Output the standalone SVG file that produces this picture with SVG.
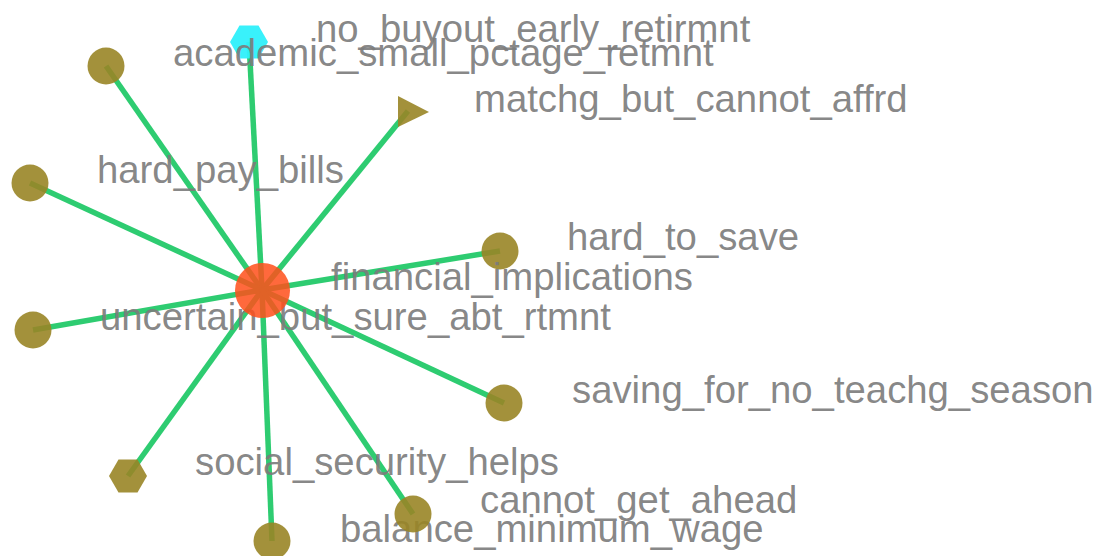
<svg xmlns="http://www.w3.org/2000/svg" width="1097" height="556" viewBox="0 0 1097 556">
<style>
.e{stroke:#2ecc71;stroke-width:5.5;fill:none;stroke-linecap:butt}
.o{fill:#998526;fill-opacity:0.9}
.c{fill:#2ef0fb;fill-opacity:0.95}
.h{fill:#ff4f1a;fill-opacity:0.85}
.t{font-family:"Liberation Sans",Arial,sans-serif;font-size:38.3px;fill:#7c7c7c;fill-opacity:0.92}
</style>
<rect width="1097" height="556" fill="#ffffff"/>
<g id="connectors">
<line class="e" x1="262" y1="290" x2="249" y2="42"/>
<line class="e" x1="262" y1="290" x2="106" y2="66"/>
<line class="e" x1="262" y1="290" x2="408" y2="111"/>
<line class="e" x1="262" y1="290" x2="30" y2="183"/>
<line class="e" x1="262" y1="290" x2="500" y2="251"/>
<line class="e" x1="262" y1="290" x2="33" y2="330"/>
<line class="e" x1="262" y1="290" x2="504" y2="403"/>
<line class="e" x1="262" y1="290" x2="128" y2="476"/>
<line class="e" x1="262" y1="290" x2="272" y2="541"/>
<line class="e" x1="262" y1="290" x2="413" y2="514"/>
</g>
<g id="n_no_buyout_early_retirmnt">
<polygon class="c" points="230,42 239.5,25.5 258.5,25.5 268,42 258.5,58.5 239.5,58.5"/>
<text class="t" x="316" y="42">no_buyout_early_retirmnt</text>
</g>
<g id="n_academic_small_pctage_retmnt">
<circle class="o" cx="106" cy="66" r="18.5"/>
<text class="t" x="173" y="66">academic_small_pctage_retmnt</text>
</g>
<g id="n_matchg_but_cannot_affrd">
<polygon class="o" points="398,96 429,112 398,127"/>
<text class="t" x="474" y="112">matchg_but_cannot_affrd</text>
</g>
<g id="n_hard_pay_bills">
<circle class="o" cx="30" cy="183" r="18.5"/>
<text class="t" x="97" y="183">hard_pay_bills</text>
</g>
<g id="n_hard_to_save">
<circle class="o" cx="500" cy="251" r="18.5"/>
<text class="t" x="567" y="250">hard_to_save</text>
</g>
<g id="n_uncertain_but_sure_abt_rtmnt">
<circle class="o" cx="33" cy="330" r="18.5"/>
<text class="t" x="100" y="330">uncertain_but_sure_abt_rtmnt</text>
</g>
<g id="n_saving_for_no_teachg_season">
<circle class="o" cx="504" cy="403" r="18.5"/>
<text class="t" x="572" y="403">saving_for_no_teachg_season</text>
</g>
<g id="n_social_security_helps">
<polygon class="o" points="109,476 118.5,459.5 137.5,459.5 147,476 137.5,492.5 118.5,492.5"/>
<text class="t" x="195" y="475">social_security_helps</text>
</g>
<g id="n_balance_minimum_wage">
<circle class="o" cx="272" cy="541" r="18.5"/>
<text class="t" x="340" y="542">balance_minimum_wage</text>
</g>
<g id="n_cannot_get_ahead">
<circle class="o" cx="413" cy="514" r="18.5"/>
<text class="t" x="480" y="513">cannot_get_ahead</text>
</g>
<g id="n_financial_implications">
<circle class="h" cx="262.5" cy="290.5" r="27.5"/>
<text class="t" x="331" y="290">financial_implications</text>
</g>
</svg>
